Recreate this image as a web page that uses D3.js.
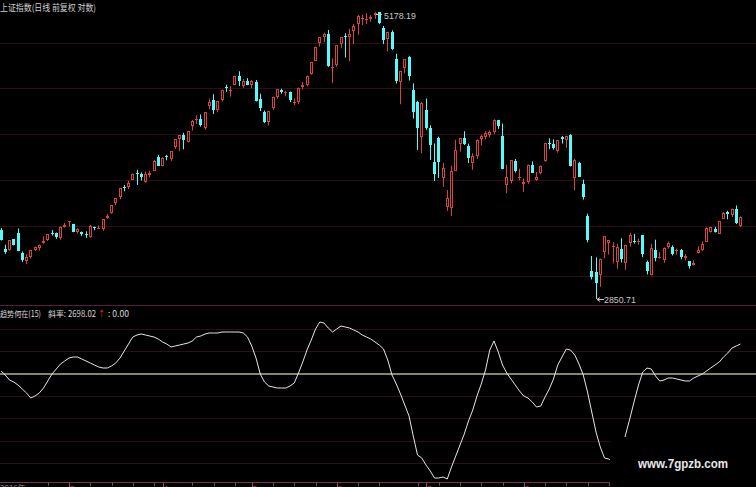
<!DOCTYPE html>
<html><head><meta charset="utf-8">
<script src="https://cdn.jsdelivr.net/npm/d3@7"></script>
<style>html,body{margin:0;padding:0;background:#000;overflow:hidden}svg{display:block}</style>
</head><body>
<svg id="c" width="756" height="487"></svg>
<script>
// ---------- data ----------
const dates = ["01-30",
"02-02","02-03","02-04","02-05","02-06","02-09","02-10","02-11","02-12","02-13","02-16","02-17","02-25","02-26","02-27",
"03-02","03-03","03-04","03-05","03-06","03-09","03-10","03-11","03-12","03-13","03-16","03-17","03-18","03-19","03-20","03-23","03-24","03-25","03-26","03-27","03-30","03-31",
"04-01","04-02","04-03","04-07","04-08","04-09","04-10","04-13","04-14","04-15","04-16","04-17","04-20","04-21","04-22","04-23","04-24","04-27","04-28","04-29","04-30",
"05-04","05-05","05-06","05-07","05-08","05-11","05-12","05-13","05-14","05-15","05-18","05-19","05-20","05-21","05-22","05-25","05-26","05-27","05-28","05-29",
"06-01","06-02","06-03","06-04","06-05","06-08","06-09","06-10","06-11","06-12","06-15","06-16","06-17","06-18","06-19","06-23","06-24","06-25","06-26","06-29","06-30",
"07-01","07-02","07-03","07-06","07-07","07-08","07-09","07-10","07-13","07-14","07-15","07-16","07-17","07-20","07-21","07-22","07-23","07-24","07-27","07-28","07-29","07-30","07-31",
"08-03","08-04","08-05","08-06","08-07","08-10","08-11","08-12","08-13","08-14","08-17","08-18","08-19","08-20","08-21","08-24","08-25","08-26","08-27","08-28","08-31",
"09-01","09-02","09-07","09-08","09-09","09-10","09-11","09-14","09-15","09-16","09-17","09-18","09-21","09-22","09-23","09-24","09-25","09-28","09-29","09-30",
"10-08","10-09","10-12","10-13","10-14","10-15","10-16","10-19","10-20","10-21","10-22"];

const open = [3273,
3148,3141,3212,3257,3120,3067,3093,3143,3152,3188,3207,3257,3257,3222,3297,
3332,3317,3264,3264,3249,3225,3294,3290,3284,3358,3391,3469,3508,3583,3586,3641,3692,3683,3621,3677,3709,3820,
3748,3828,3803,3899,3962,4000,3944,4072,4124,4135,4057,4254,4301,4212,4304,4420,4394,4441,4528,4435,4483,
4441,4466,4310,4199,4106,4233,4335,4395,4377,4377,4281,4285,4427,4444,4543,4670,4854,4909,4943,4603,
4633,4844,4924,4915,4976,5045,5113,5100,5101,5144,5175,5004,4890,4967,4689,4471,4604,4711,4399,4289,3983,
4214,4058,3781,3975,3650,3437,3432,3707,3924,3976,3909,3768,3829,3964,3983,4001,4028,4123,3990,3600,3631,3784,3657,
3607,3621,3758,3635,3691,3786,3936,3925,3867,3980,3958,3999,3651,3767,3609,3373,3004,3000,2978,3125,3185,
3157,3063,3149,3054,3185,3201,3196,3238,3060,2978,3137,3093,3077,3163,3160,3136,3143,3089,3066,3045,
3118,3143,3194,3262,3280,3249,3352,3401,3378,3422,3305];

const close = [3210,
3128,3204,3175,3136,3076,3095,3142,3158,3173,3203,3247,3246,3229,3298,3310,
3336,3263,3280,3248,3241,3302,3286,3291,3350,3373,3449,3503,3577,3582,3617,3687,3691,3661,3683,3691,3787,3748,
3811,3825,3864,3961,3995,3957,4034,4121,4135,4084,4194,4287,4217,4293,4398,4414,4394,4527,4476,4476,4442,
4481,4299,4229,4112,4206,4333,4402,4375,4378,4308,4284,4417,4446,4530,4658,4814,4911,4942,4620,4612,
4829,4910,4910,4948,5023,5131,5114,5106,5121,5166,5062,4887,4968,4786,4478,4577,4691,4528,4193,4054,4277,
4054,3912,3687,3776,3727,3503,3710,3878,3970,3925,3806,3823,3958,3993,4017,4027,4124,4071,3726,3663,3790,3705,3664,
3623,3756,3695,3661,3744,3928,3928,3887,3955,3965,3994,3748,3794,3664,3508,3210,2965,2927,3084,3232,3206,
3166,3160,3080,3170,3243,3197,3200,3114,3005,3152,3086,3097,3156,3186,3115,3143,3092,3101,3039,3053,
3143,3183,3287,3293,3262,3338,3391,3386,3425,3320,3368];

const high = [3288,
3175,3205,3213,3286,3130,3112,3142,3163,3176,3231,3248,3274,3257,3300,3324,
3337,3318,3286,3264,3266,3310,3298,3307,3351,3386,3449,3503,3577,3600,3632,3687,3716,3696,3704,3710,3795,3835,
3817,3835,3865,3961,3995,4017,4034,4128,4168,4175,4195,4317,4356,4294,4398,4444,4432,4529,4572,4499,4506,
4489,4488,4362,4210,4206,4333,4402,4407,4386,4380,4319,4417,4470,4530,4658,4814,4911,4958,4986,4698,
4829,4911,4951,5000,5051,5147,5147,5164,5144,5178.19,5176,5029,4968,4983,4744,4577,4691,4720,4456,4297,4287,
4318,4081,3928,3985,3770,3562,3749,3959,3975,4030,3927,3849,3962,4000,4030,4036,4133,4125,4096,3758,3790,3802,3725,
3650,3757,3783,3699,3750,3928,3971,3962,3955,3991,3994,4006,3804,3779,3640,3389,3101,3092,3084,3233,3207,
3193,3182,3218,3174,3256,3248,3217,3239,3071,3182,3209,3125,3157,3196,3171,3149,3147,3114,3067,3073,
3165,3199,3294,3297,3297,3339,3401,3410,3426,3448,3370];

const low = [3203,
3115,3136,3171,3134,3062,3049,3085,3134,3136,3182,3201,3237,3215,3208,3291,
3298,3260,3250,3233,3221,3222,3273,3281,3269,3351,3388,3449,3493,3553,3569,3640,3600,3634,3617,3657,3709,3748,
3743,3791,3785,3882,3865,3880,3937,4036,4091,4070,4043,4221,4180,4194,4290,4378,4335,4441,4432,4414,4440,
4412,4291,4205,4099,4080,4215,4317,4361,4337,4285,4259,4268,4399,4431,4539,4671,4815,4861,4614,4459,
4616,4797,4705,4669,4842,4936,5039,5050,5072,5103,5048,4842,4767,4780,4456,4265,4552,4483,4139,3875,3848,
4043,3795,3629,3653,3585,3409,3373,3707,3862,3915,3770,3717,3802,3911,3962,3979,4007,4050,3721,3537,3611,3695,3635,
3549,3609,3693,3630,3681,3780,3882,3877,3853,3927,3892,3743,3559,3663,3491,3191,2952,2850.71,2906,3086,3110,
3053,3019,3059,3011,3163,3183,3175,3093,2983,2977,3066,3084,3057,3149,3104,3110,3080,3073,3020,3040,
3117,3133,3194,3257,3257,3247,3352,3349,3365,3316,3295];

// 趋势何在(15) indicator, read per candle
const trend = [3,-1,-6,-8,-11,-15,-19,-24,-22,-19,-14,-7,0,5,10,13,16,17,17,15,13,11,9,7,6,6,8,11,16,23,30,37,39,40,39,38,37,35,32,30,
27,28,29,30,31,33,37,38,40,41,41,41,42,42,42,42,42,41,37,28,16,0,-8,-12,-13,-14,-14,-14,-12,-9,
1,12,24,34,45,52,51,46,42,45,48,47,46,44,42,39,37,35,32,29,25,14,-1,-10,-20,-31,-42,-62,-81,-84,
-91,-97,-104,-104,-103,-105,-93,-82,-71,-60,-47,-36,-22,-10,4,24,33,22,9,1,-5,-11,-17,-22,-24,-28,
-33,-32,-23,-15,-5,9,17,25,24,19,10,-1,-18,-38,-58,-73,-84,-85,-88,-84,-76,-60,-44,-27,-11,2,
6,5,-2,-7,-6,-4,-4,-5,-6,-7,-7,-4,-2,0,3,6,9,12,17,21,26,28,30];

const priceGrid = [4853, 4415, 4008, 3639, 3304, 2973];
const trendGrid = [45, 23, -22, -44, -67, -89];
const monthLabels = ["3","4","5","6","7","8","9","10"];
const titleText = "上证指数(日线 前复权 对数)";
const trendTitle = ["趋势何在(15)", "斜率:", "2698.02", "↑", ": 0.00"];
const hiText = "5178.19", loText = "2850.71";
const yearText = "2016年";
const watermark = "www.7gpzb.com";

// ---------- drawing ----------
const W = 756, H = 487;
const svg = d3.select("#c");
svg.append("rect").attr("width", W).attr("height", H).attr("fill", "#000");

const n = dates.length, pitch = 4.25;
const x = d3.scaleBand().domain(d3.range(n)).range([1 - pitch / 2, 1 - pitch / 2 + pitch * n]);
const cx = i => x(i) + x.bandwidth() / 2;
const y = d3.scaleLog().domain([2850.71, 5178.19]).range([296, 12]);
const yT = d3.scaleLinear().domain([-100, 100]).range([474, 274]);

const gridCol = "#2e0e18";
// upper grid
svg.append("g").selectAll("line").data(priceGrid).join("line")
  .attr("x1", 0).attr("x2", W)
  .attr("y1", d => Math.round(y(d)) + 0.5).attr("y2", d => Math.round(y(d)) + 0.5)
  .attr("stroke", gridCol).attr("stroke-width", 1);
// lower grid
svg.append("g").selectAll("line").data(trendGrid).join("line")
  .attr("x1", 0).attr("x2", W)
  .attr("y1", d => Math.round(yT(d)) + 0.5).attr("y2", d => Math.round(yT(d)) + 0.5)
  .attr("stroke", gridCol).attr("stroke-width", 1);
// panel separator
svg.append("line").attr("x1", 0).attr("x2", W).attr("y1", 305.5).attr("y2", 305.5)
  .attr("stroke", "#5a1c38").attr("stroke-width", 1);

// candles
const red = "#d84242", cyan = "#54fcfc";
const gC = svg.append("g");
d3.range(n).forEach(i => {
  const o = open[i], c = close[i], h = high[i], l = low[i];
  const up = c >= o;
  const L = Math.round(cx(i) - 1.5), wx = L + 1.5;
  const yt = Math.round(y(Math.max(o, c))), yb = Math.round(y(Math.min(o, c)));
  const yh = y(h), yl = y(l);
  if (up) {
    if (yb - yt <= 1) {
      gC.append("line").attr("x1", wx).attr("x2", wx).attr("y1", yh).attr("y2", yl).attr("stroke", red);
      gC.append("rect").attr("x", L).attr("y", yt).attr("width", 3).attr("height", 1).attr("fill", red);
    } else {
      gC.append("line").attr("x1", wx).attr("x2", wx).attr("y1", yh).attr("y2", yt).attr("stroke", red);
      gC.append("line").attr("x1", wx).attr("x2", wx).attr("y1", yb).attr("y2", yl).attr("stroke", red);
      gC.append("rect").attr("x", L + 0.5).attr("y", yt + 0.5).attr("width", 2).attr("height", yb - yt - 1)
        .attr("fill", "none").attr("stroke", red).attr("stroke-width", 1);
    }
  } else {
    gC.append("line").attr("x1", wx).attr("x2", wx).attr("y1", yh).attr("y2", yl).attr("stroke", cyan);
    gC.append("rect").attr("x", L).attr("y", yt).attr("width", 3).attr("height", Math.max(1, yb - yt)).attr("fill", cyan);
  }
});

// high / low markers
const hiI = high.indexOf(d3.max(high)), loI = low.indexOf(d3.min(low));
const hx = cx(hiI), hy = y(high[hiI]);
svg.append("path").attr("d", `M${Math.round(hx) + 1},${Math.round(hy) + 2.5}h6`).attr("stroke", "#c8c8c8");
svg.append("text").attr("x", hx + 9).attr("y", hy + 7).text(hiText)
  .attr("fill", "#c8c8c8").attr("font-family", "Liberation Sans, Arial").attr("font-size", 8.8);
const lx = cx(loI), ly = y(low[loI]);
svg.append("path").attr("d", `M${Math.round(lx) + 0.5},${ly}V${ly + 3}M${Math.round(lx) + 1},${ly + 3.5}h7M${Math.round(lx) + 1},${ly + 3.5}l3,-2M${Math.round(lx) + 1},${ly + 3.5}l3,2`)
  .attr("stroke", "#c8c8c8").attr("fill", "none");
svg.append("text").attr("x", lx + 8).attr("y", ly + 7).text(loText)
  .attr("fill", "#c8c8c8").attr("font-family", "Liberation Sans, Arial").attr("font-size", 8.8);

// titles
svg.append("text").attr("x", 0).attr("y", 10.5).text(titleText)
  .attr("fill", "#d0d0d0").attr("font-family", "Noto Sans CJK SC").attr("font-size", 9)
  .attr("textLength", 96).attr("lengthAdjust", "spacingAndGlyphs");
const ttX = [0, 48, 68, 99, 108];
const ttW = [41, 18, 28, 5, 21];
const ttF = [8.5, 8.5, 8.5, 10, 8.5];
trendTitle.forEach((s, k) => {
  svg.append("text").attr("x", ttX[k]).attr("y", 317).text(s)
    .attr("font-family", k === 3 ? "DejaVu Sans" : "Noto Sans CJK SC, Liberation Sans").attr("font-size", ttF[k])
    .attr("textLength", ttW[k]).attr("lengthAdjust", "spacingAndGlyphs")
    .attr("fill", k === 3 ? "#ff3030" : "#d8d8d8");
});

// zero line and trend line
svg.append("line").attr("x1", 0).attr("x2", W).attr("y1", yT(0)).attr("y2", yT(0))
  .attr("stroke", "#b2b294").attr("stroke-width", 1.5);
svg.append("path").datum(trend)
  .attr("d", d3.line().x((d, i) => cx(i)).y(d => yT(d)))
  .attr("fill", "none").attr("stroke", "#e6e6e6").attr("stroke-width", 1);

// bottom axis
svg.append("line").attr("x1", 0).attr("x2", W).attr("y1", 482.5).attr("y2", 482.5).attr("stroke", "#7a3050");
const parse = d3.timeParse("%Y-%m-%d");
const dd = dates.map(s => parse("2015-" + s));
const gA = svg.append("g");
let mk = 0;
dd.forEach((d, i) => {
  if (i > 1 && d.getMonth() !== dd[i - 1].getMonth()) {
    gA.append("line").attr("x1", Math.round(cx(i)) + 0.5).attr("x2", Math.round(cx(i)) + 0.5).attr("y1", 483).attr("y2", 487).attr("stroke", "#c04060");
    gA.append("text").attr("x", cx(i) + 1).attr("y", 491).text(monthLabels[mk++] || "")
      .attr("fill", "#b05070").attr("font-family", "Liberation Sans").attr("font-size", 8);
  } else if (i > 6 && d.getDay() === 1) {
    gA.append("line").attr("x1", Math.round(cx(i)) + 0.5).attr("x2", Math.round(cx(i)) + 0.5).attr("y1", 483).attr("y2", 486).attr("stroke", "#705060");
  }
});
svg.append("text").attr("x", 0).attr("y", 491).text(yearText)
  .attr("fill", "#a08890").attr("font-family", "Noto Sans CJK SC").attr("font-size", 8);

// watermark box
svg.append("rect").attr("x", 610).attr("y", 437).attr("width", W - 610).attr("height", H - 437).attr("fill", "#000");
svg.append("text").attr("x", 638).attr("y", 467.5).text(watermark)
  .attr("fill", "#e8e8e8").attr("font-family", "Liberation Sans, Arial").attr("font-weight", "bold").attr("font-size", 12.5)
  .attr("textLength", 90).attr("lengthAdjust", "spacingAndGlyphs");
</script>
</body></html>
